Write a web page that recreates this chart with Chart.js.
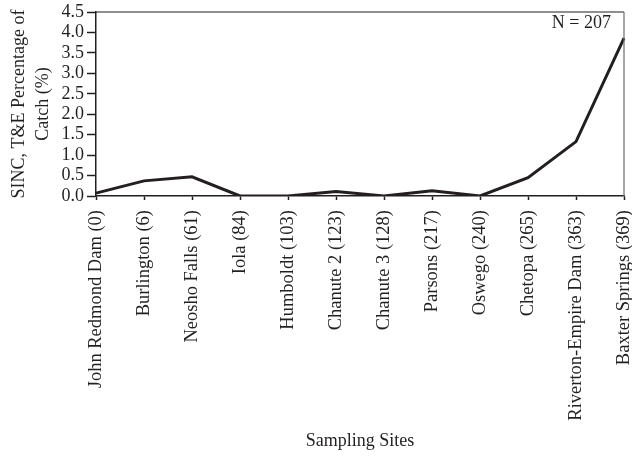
<!DOCTYPE html>
<html>
<head>
<meta charset="utf-8">
<script src="https://cdn.jsdelivr.net/npm/chart.js@4/dist/chart.umd.min.js"></script>
<style>
  html, body { margin: 0; padding: 0; background: #fff; }
  #wrap { width: 632px; height: 456px; }
</style>
</head>
<body>
<div id="wrap"><canvas id="chart" width="632" height="456"></canvas></div>
<script>
// Sampling sites along the river (river km in parentheses)
const sites = [
  'John Redmond Dam (0)', 'Burlington (6)', 'Neosho Falls (61)', 'Iola (84)',
  'Humboldt (103)', 'Chanute 2 (123)', 'Chanute 3 (128)', 'Parsons (217)',
  'Oswego (240)', 'Chetopa (265)', 'Riverton-Empire Dam (363)', 'Baxter Springs (369)'
];
// SINC, T&E share of the catch (%) at each site
const percentCatch = [0.07, 0.37, 0.47, 0.0, 0.0, 0.11, 0.0, 0.13, 0.0, 0.45, 1.33, 3.86];
// Y axis ticks
const yTicks = [0.0, 0.5, 1.0, 1.5, 2.0, 2.5, 3.0, 3.5, 4.0, 4.5];
const sampleSize = 'N = 207';

const ink = '#231f20';
const serif = "'Liberation Serif', 'Times New Roman', serif";

// Frame on the top and right of the plot area, plus the sample-size note
const framePlugin = {
  id: 'frame',
  afterDraw(chart) {
    const { ctx, chartArea: a } = chart;
    ctx.save();
    ctx.strokeStyle = ink;
    ctx.lineWidth = 1.2;
    ctx.beginPath();
    ctx.moveTo(a.left, a.top);
    ctx.lineTo(a.right, a.top);
    ctx.stroke();
    ctx.strokeStyle = '#6d6d6d';
    ctx.beginPath();
    ctx.moveTo(a.right, a.top);
    ctx.lineTo(a.right, a.bottom);
    ctx.stroke();
    ctx.fillStyle = ink;
    ctx.font = '18px ' + serif;
    ctx.textAlign = 'right';
    ctx.textBaseline = 'middle';
    ctx.fillText(sampleSize, a.right - 13, a.top + 11);
    ctx.restore();
  }
};

new Chart(document.getElementById('chart'), {
  type: 'line',
  data: {
    labels: sites,
    datasets: [{
      data: percentCatch,
      borderColor: ink,
      borderWidth: 3,
      tension: 0,
      pointRadius: 0,
      fill: false
    }]
  },
  options: {
    responsive: false,
    animation: false,
    devicePixelRatio: 1,
    layout: { padding: { top: 12, right: 8, left: 0, bottom: 0 } },
    plugins: { legend: { display: false }, tooltip: { enabled: false } },
    scales: {
      x: {
        type: 'category',
        offset: false,
        afterFit(scale) {
          scale.height = 260;
          scale.paddingLeft = 0;
          scale.paddingRight = 0;
        },
        grid: {
          display: true, drawOnChartArea: false, drawTicks: true, offset: false,
          tickLength: 4, tickColor: ink, tickWidth: 1.5
        },
        border: { display: true, color: ink, width: 1.5 },
        ticks: {
          autoSkip: false, minRotation: 90, maxRotation: 90, padding: 10,
          color: ink, font: { family: serif, size: 18.5 }
        },
        title: {
          display: true, text: 'Sampling Sites', color: ink,
          font: { family: serif, size: 18, lineHeight: 1.2 },
          padding: { top: 0, bottom: 4 }
        }
      },
      y: {
        min: 0, max: 4.5,
        afterFit(scale) {
          scale.width = 96;
          scale.paddingTop = 0;
          scale.paddingBottom = 0;
        },
        afterBuildTicks(scale) { scale.ticks = yTicks.map(v => ({ value: v })); },
        grid: {
          display: true, drawOnChartArea: false, drawTicks: true,
          tickLength: 9, tickColor: ink, tickWidth: 1.5
        },
        border: { display: true, color: ink, width: 1.5 },
        ticks: {
          autoSkip: false, padding: 3, color: ink, font: { family: serif, size: 18 },
          callback: v => Number(v).toFixed(1)
        },
        title: {
          display: true, text: ['SINC, T&E Percentage of', 'Catch (%)'], color: ink,
          font: { family: serif, size: 18, lineHeight: 1.33 },
          padding: { top: 7, bottom: 0 }
        }
      }
    }
  },
  plugins: [framePlugin]
});
</script>
</body>
</html>
